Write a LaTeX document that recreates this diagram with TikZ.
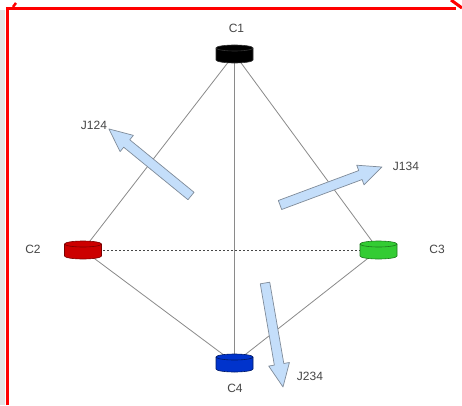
\documentclass[tikz,border=0pt]{standalone}
\usepackage{fontspec}
\setmainfont{Liberation Sans}
\usetikzlibrary{backgrounds}
\definecolor{labelgrey}{HTML}{464646}
\definecolor{linegrey}{HTML}{8A8A8A}
\definecolor{arrowfill}{HTML}{C4DEFA}
\definecolor{arrowline}{HTML}{7F8B99}
\definecolor{cylred}{HTML}{CC0000}
\definecolor{cylredd}{HTML}{7A0000}
\definecolor{cylgreen}{HTML}{33CC33}
\definecolor{cylgreend}{HTML}{1E7A1E}
\definecolor{cylblue}{HTML}{0033CC}
\definecolor{cylblued}{HTML}{001A66}
\definecolor{cylblack}{HTML}{000000}
\definecolor{cylblackd}{HTML}{333333}
\definecolor{frame}{HTML}{FF0000}
\definecolor{strip}{HTML}{E4E4E4}
\newcommand{\mycyl}[5]{%
  \node[inner sep=0pt, minimum width=37pt, minimum height=18pt] (#1) at (#2,#3) {};
  \fill[#4] ({#2-18.5},{#3+6}) -- ({#2-18.5},{#3-6}) arc[start angle=180,end angle=360,x radius=18.5,y radius=3]
     -- ({#2+18.5},{#3+6}) arc[start angle=0,end angle=180,x radius=18.5,y radius=3] -- cycle;
  \draw[#5, line width=0.6pt] ({#2-18.5},{#3+6}) -- ({#2-18.5},{#3-6}) arc[start angle=180,end angle=360,x radius=18.5,y radius=3]
     -- ({#2+18.5},{#3+6});
  \draw[#5, line width=0.6pt] (#2,{#3+6}) ellipse[x radius=18.5,y radius=3];
}
\tikzset{
  lbl/.style={text=labelgrey, font=\fontsize{12}{14}\selectfont, inner sep=0pt},
  edge/.style={draw=linegrey, line width=0.8pt},
  dashedge/.style={draw=labelgrey, line width=0.7pt, dash pattern=on 2pt off 2pt},
  blockarrow/.style={fill=arrowfill, draw=arrowline, line width=0.7pt, line join=round},
  pics/barrow/.style={code={
    \path[blockarrow] (0,-4.8) -- ({#1-23},-4.8) -- ({#1-23},-10.5) -- (#1,0) -- ({#1-23},10.5) -- ({#1-23},4.8) -- (0,4.8) -- cycle;
  }}
}
\begin{document}
\begin{tikzpicture}[x=1pt,y=1pt]
\useasboundingbox (0,0) rectangle (462,405);
% cylinders
\mycyl{c1}{234.5}{351}{cylblack}{cylblackd}
\mycyl{c2}{83}{155}{cylred}{cylredd}
\mycyl{c3}{378.5}{155}{cylgreen}{cylgreend}
\mycyl{c4}{234.5}{42}{cylblue}{cylblued}
\begin{scope}[on background layer]
  \fill[white] (0,0) rectangle (462,405);
  \fill[strip] (0,0) rectangle (5,395);
  \draw[edge] (c1.center) -- (c2.center);
  \draw[edge] (c1.center) -- (c3.center);
  \draw[edge] (c1.center) -- (c4.center);
  \draw[edge] (c2.center) -- (c4.center);
  \draw[edge] (c3.center) -- (c4.center);
  \draw[dashedge] (c2.center) -- (c3.center);
\end{scope}
% frame
\draw[frame, line width=3pt] (7.5,0) -- (7.5,396.5) -- (456,396.5);
\draw[frame, line width=2.5pt] (13,398) -- (16,402);
\draw[frame, line width=3pt] (451,405) -- (462,397);
% labels
\node[lbl] (l1) at (236.5,377) {C1};
\node[lbl] (l2) at (33,156) {C2};
\node[lbl] (l3) at (437,156) {C3};
\node[lbl] (l4) at (235,17) {C4};
\node[lbl] (j124) at (94,280) {J124};
\node[lbl] (j134) at (406,239) {J134};
\node[lbl] (j234) at (310,29) {J234};
% block arrows
\coordinate (t124) at (191,209);
\coordinate (t134) at (280,200);
\coordinate (t234) at (265,122);
\pic[rotate=140.75] at (t124) {barrow=106};
\pic[rotate=20.43] at (t134) {barrow=108.8};
\pic[rotate=-80.18] at (t234) {barrow=105.5};
\end{tikzpicture}
\end{document}
